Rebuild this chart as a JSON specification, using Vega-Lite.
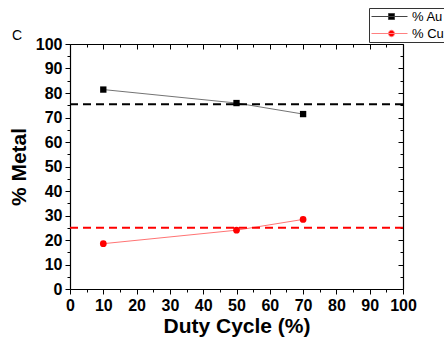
{
  "$schema": "https://vega.github.io/schema/vega-lite/v6.json",
  "autosize": "none",
  "width": 333,
  "height": 245,
  "padding": {"left": 70, "top": 44, "right": 41, "bottom": 52},
  "background": "white",
  "config": {
    "view": {"stroke": null},
    "axis": {
      "grid": false,
      "domainColor": "black",
      "domainWidth": 1.2,
      "tickColor": "black",
      "tickWidth": 1,
      "labelOverlap": false,
      "labelFlush": false,
      "labelFont": "Liberation Sans",
      "labelFontWeight": "bold",
      "labelFontSize": 16,
      "labelColor": "black",
      "titleFont": "Liberation Sans",
      "titleFontWeight": "bold",
      "titleFontSize": 21,
      "titleColor": "black"
    },
    "legend": {
      "orient": "none",
      "legendX": 299,
      "legendY": -36,
      "title": null,
      "symbolSize": 196,
      "symbolStrokeWidth": 1,
      "symbolOpacity": 1,
      "labelOffset": 27,
      "labelFont": "Liberation Sans",
      "labelFontSize": 13,
      "labelColor": "black",
      "padding": 1,
      "rowPadding": 2,
      "strokeColor": "#333333",
      "fillColor": "white"
    }
  },
  "title": {
    "text": "C",
    "anchor": "start",
    "frame": "group",
    "baseline": "alphabetic",
    "dx": -58,
    "dy": 52,
    "offset": 6,
    "font": "Liberation Sans",
    "fontSize": 14,
    "fontWeight": "normal",
    "color": "black"
  },
  "datasets": {
    "measured": [
      {"cycle": 10, "series": "% Au", "pct": 81.4},
      {"cycle": 50, "series": "% Au", "pct": 75.9},
      {"cycle": 70, "series": "% Au", "pct": 71.4},
      {"cycle": 10, "series": "% Cu", "pct": 18.5},
      {"cycle": 50, "series": "% Cu", "pct": 24.0},
      {"cycle": 70, "series": "% Cu", "pct": 28.4}
    ],
    "levels": [
      {"series": "% Au", "level": 75.4},
      {"series": "% Cu", "level": 25}
    ]
  },
  "layer": [
    {
      "data": {"name": "levels"},
      "mark": {"type": "rule", "strokeWidth": 2, "strokeDash": [8, 5]},
      "encoding": {
        "y": {
          "field": "level",
          "type": "quantitative",
          "scale": {"domain": [0, 100], "nice": false},
          "axis": {
            "orient": "left",
            "values": [0, 10, 20, 30, 40, 50, 60, 70, 80, 90, 100],
            "tickSize": 5,
            "labelPadding": 3,
            "title": "% Metal",
            "titlePadding": 6
          }
        },
        "color": {
          "field": "series",
          "type": "nominal",
          "scale": {"domain": ["% Au", "% Cu"], "range": ["black", "red"]},
          "legend": null
        }
      }
    },
    {
      "data": {"name": "measured"},
      "mark": {"type": "line", "strokeWidth": 1, "opacity": 0.55},
      "encoding": {
        "x": {
          "field": "cycle",
          "type": "quantitative",
          "scale": {"domain": [0, 100], "nice": false},
          "axis": {
            "orient": "bottom",
            "values": [0, 10, 20, 30, 40, 50, 60, 70, 80, 90, 100],
            "tickSize": 5,
            "labelPadding": 3,
            "title": "Duty Cycle (%)",
            "titlePadding": 2
          }
        },
        "y": {
          "field": "pct",
          "type": "quantitative",
          "axis": {
            "orient": "right",
            "values": [0, 10, 20, 30, 40, 50, 60, 70, 80, 90, 100],
            "tickSize": -5,
            "labels": false,
            "title": null
          }
        },
        "color": {"field": "series", "type": "nominal", "legend": null}
      }
    },
    {
      "data": {"name": "measured"},
      "transform": [{"filter": "datum.series === '% Au'"}],
      "mark": {"type": "point", "shape": "square", "filled": true, "size": 40, "opacity": 1},
      "encoding": {
        "x": {
          "field": "cycle",
          "type": "quantitative",
          "axis": {
            "orient": "bottom",
            "values": [5, 15, 25, 35, 45, 55, 65, 75, 85, 95],
            "tickSize": 3,
            "labels": false,
            "domain": false,
            "title": null
          }
        },
        "y": {
          "field": "pct",
          "type": "quantitative",
          "axis": {
            "orient": "left",
            "values": [5, 15, 25, 35, 45, 55, 65, 75, 85, 95],
            "tickSize": 3,
            "labels": false,
            "domain": false,
            "title": null
          }
        },
        "color": {"field": "series", "type": "nominal", "legend": null}
      }
    },
    {
      "data": {"name": "measured"},
      "transform": [{"filter": "datum.series === '% Cu'"}],
      "mark": {"type": "point", "shape": "circle", "filled": true, "size": 45, "opacity": 1},
      "encoding": {
        "x": {
          "field": "cycle",
          "type": "quantitative",
          "axis": {
            "orient": "top",
            "values": [0, 10, 20, 30, 40, 50, 60, 70, 80, 90, 100],
            "tickSize": -5,
            "labels": false,
            "title": null
          }
        },
        "y": {
          "field": "pct",
          "type": "quantitative",
          "axis": {
            "orient": "right",
            "values": [5, 15, 25, 35, 45, 55, 65, 75, 85, 95],
            "tickSize": -3,
            "labels": false,
            "domain": false,
            "title": null
          }
        },
        "color": {"field": "series", "type": "nominal", "legend": null}
      }
    },
    {
      "data": {"name": "measured"},
      "mark": {"type": "point", "filled": true, "opacity": 0},
      "encoding": {
        "x": {
          "field": "cycle",
          "type": "quantitative",
          "axis": {
            "orient": "top",
            "values": [5, 15, 25, 35, 45, 55, 65, 75, 85, 95],
            "tickSize": -3,
            "labels": false,
            "domain": false,
            "title": null
          }
        },
        "y": {
          "field": "pct",
          "type": "quantitative",
          "axis": null
        },
        "fill": {
          "field": "series",
          "type": "nominal",
          "scale": {"range": ["black", "red"]}
        },
        "stroke": {
          "field": "series",
          "type": "nominal",
          "scale": {"range": ["#444444", "#ff8080"]}
        },
        "shape": {
          "field": "series",
          "type": "nominal",
          "scale": {
            "range": [
              "M-0.857,0H4.286M1.571,-0.429H2.429V0.429H1.571Z",
              "M-0.857,0H4.286M1.571,0A0.43,0.43 0 1,0 2.429,0A0.43,0.43 0 1,0 1.571,0Z"
            ]
          }
        }
      }
    }
  ],
  "resolve": {
    "axis": {"x": "independent", "y": "independent"}
  }
}
